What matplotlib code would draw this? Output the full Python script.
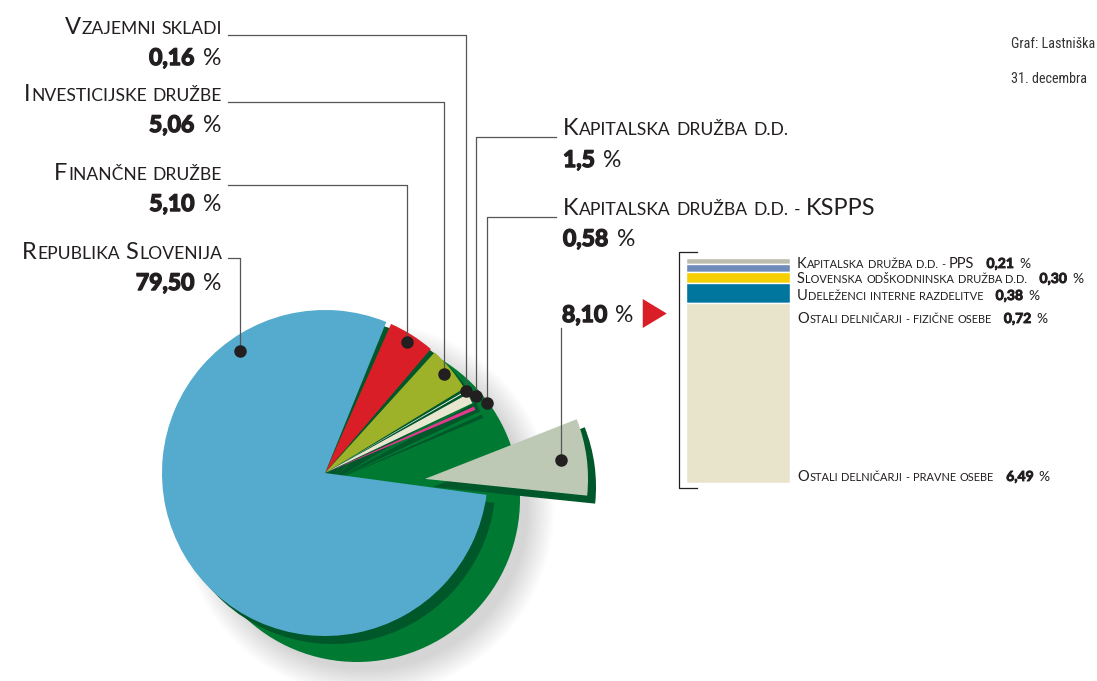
import numpy as np
import matplotlib
matplotlib.use('Agg')
import matplotlib.pyplot as plt
import matplotlib.patheffects as pe
from matplotlib.patches import Wedge, Circle, Polygon
from matplotlib import font_manager

# lastniska struktura - delezi v % (v smeri urinega kazalca od vrha)
slices = ['Finančne družbe', 'Investicijske družbe', 'Vzajemni skladi',
          'Kapitalska družba d.d.', 'Kapitalska družba d.d. - KSPPS',
          'Ostali', 'Republika Slovenija']
shares = [5.10, 5.06, 0.16, 1.5, 0.58, 8.10, 79.50]
share_txt = ['5,10', '5,06', '0,16', '1,5', '0,58', '8,10', '79,50']
slice_colors = ['#d91e27', '#9db229', '#ffffff', '#e9e6d0', '#e2398f',
                '#bdc9b4', '#55abcd']

# razdelitev "ostali" 8,10 %
others = ['Kapitalska družba d.d. - PPS', 'Slovenska odškodninska družba d.d.',
          'Udeleženci interne razdelitve', 'Ostali delničarji - fizične osebe',
          'Ostali delničarji - pravne osebe']
others_shares = [0.21, 0.30, 0.38, 0.72, 6.49]
others_txt = ['0,21', '0,30', '0,38', '0,72', '6,49']
others_colors = ['#bdbdad', '#6e8bb9', '#f5cf00', '#00759d', '#e8e4cb']

INK = '#231f20'
LINE = '#555555'
DARK = '#00572a'
GREEN = '#007a33'

names = {f.name for f in font_manager.fontManager.ttflist}
FONT = 'Lato' if 'Lato' in names else 'DejaVu Sans'
NARROW = next((n for n in ['Roboto Condensed', 'Liberation Sans Narrow', 'Roboto']
               if n in names), 'DejaVu Sans')

W, H = 1097, 681
fig = plt.figure(figsize=(W / 100, H / 100), dpi=100)
ax = fig.add_axes([0, 0, 1, 1])
ax.set_xlim(0, W)
ax.set_ylim(H, 0)
ax.axis('off')
renderer = fig.canvas.get_renderer()
PX = 100 / 72  # px per pt


def pt(a, r, c):
    a = np.radians(a)
    return c[0] + r * np.cos(a), c[1] - r * np.sin(a)


def wedge(c, r, a1, a2, **kw):
    # a1 < a2 in screen angles (ccw), y axis is inverted
    return Wedge(c, r, -a2, -a1, **kw)


# --- pita ---
C = (325, 473)
R = 163
start = 67.0
edges = start - np.concatenate([[0], np.cumsum(shares)]) * 3.6
expl = 5  # index izvlecenega kosa

# mehka senca
for k in range(14):
    ax.add_patch(Circle((C[0] + 42, C[1] + 36), R + 24 - 2 * k, color='k',
                        alpha=0.012, lw=0, zorder=1))
ax.add_patch(Circle((C[0] + 32, C[1] + 26), R, color=GREEN, lw=0, zorder=2))

lo = edges[expl + 1]
d = np.array([np.cos(np.radians(lo)), -np.sin(np.radians(lo))])
n = np.array([np.cos(np.radians(lo + 90)), -np.sin(np.radians(lo + 90))])
shift = 100 * d + 6 * n

centers = []
for i, col in enumerate(slice_colors):
    a2, a1 = edges[i], edges[i + 1]
    g = min(0.9, 0.2 * (a2 - a1))
    c = (C[0] + shift[0], C[1] + shift[1]) if i == expl else C
    centers.append(c)
    ax.add_patch(wedge((c[0] + 8, c[1] + 8), R, a1 + g, a2 - g, color=DARK,
                       lw=0, zorder=3))
    ax.add_patch(wedge(c, R, a1 + g, a2 - g, color=col, lw=0, zorder=4))


# --- besedilo ---
def put_runs(x, y, runs, ha='left', z=10):
    arts, widths = [], []
    for s, size, weight, gap in runs:
        t = ax.text(0, y, s, fontsize=size, fontweight=weight, family=FONT,
                    va='baseline', ha='left', color=INK, zorder=z)
        if weight == 'bold':
            t.set_path_effects([pe.withStroke(linewidth=size * 0.065,
                                              foreground=INK)])
        arts.append(t)
        widths.append(t.get_window_extent(renderer).width)
    total = sum(widths) + sum(r[3] for r in runs)
    x0 = x - total if ha == 'right' else x
    for t, w, r in zip(arts, widths, runs):
        x0 += r[3]
        t.set_x(x0)
        x0 += w
    return x - total if ha == 'right' else x0


def smallcaps(s, big, small):
    runs = []
    for k, word in enumerate(s.split(' ')):
        parts = []
        for ch in word:
            up = ch.isupper()
            if parts and parts[-1][1] == up:
                parts[-1][0] += ch.upper()
            else:
                parts.append([ch.upper(), up])
        for j, (txt, up) in enumerate(parts):
            gap = (0 if k == 0 else 0.32 * small * PX) if j == 0 else 0.04 * small * PX
            runs.append((txt, big if up else small, 'normal', gap))
    return runs


def pct(v, size):
    return [(v, size, 'bold', 0), ('%', size, 'normal', 0.36 * size * PX)]


BIG, SMALL, PCT = 17, 12.6, 16.5

# oznake: (indeks, baseline naziva, baseline %, y crte)
left = [(2, 34, 65, 35), (1, 101, 132, 102), (0, 180, 211, 185), (6, 259, 290, 258)]
right = [(3, 135, 167, 137), (4, 215, 246, 217)]
dot_r = {0: 0.95, 1: 0.95, 2: 1.0, 3: 1.04, 4: 1.08, 5: 0.84, 6: 0.91}


def dot_of(i):
    a = (edges[i] + edges[i + 1]) / 2 if i != 6 else 125
    return pt(a, R * dot_r[i], centers[i])


for i, yb, yp, yl in left:
    put_runs(222, yb, smallcaps(slices[i], BIG, SMALL), ha='right')
    put_runs(221, yp, pct(share_txt[i], PCT), ha='right')
    dx, dy = dot_of(i)
    ax.plot([228, dx, dx], [yl, yl, dy], color=LINE, lw=0.9, zorder=6)
    ax.plot(dx, dy, 'o', color=INK, ms=8, zorder=7)

for i, yb, yp, yl in right:
    put_runs(563, yb, smallcaps(slices[i], BIG, SMALL))
    put_runs(563, yp, pct(share_txt[i], PCT))
    dx, dy = dot_of(i)
    ax.plot([556, dx, dx], [yl, yl, dy], color=LINE, lw=0.9, zorder=6)
    ax.plot(dx, dy, 'o', color=INK, ms=8, zorder=7)

# 8,10 % in puscica
xe = put_runs(562, 322, pct(share_txt[expl], PCT))
ax.add_patch(Polygon([(xe + 9, 299), (xe + 9, 328), (xe + 33, 313.5)],
                     color='#d91e27', lw=0, zorder=8))
dx, dy = dot_of(expl)
ax.plot([dx, dx], [328, dy], color=LINE, lw=0.9, zorder=6)
ax.plot(dx, dy, 'o', color=INK, ms=8, zorder=7)

# --- stolpec razdelitve ---
bx = fig.add_axes([686 / W, 1 - 483 / H, 104 / W, 225 / H])
bottoms = np.concatenate([[0], np.cumsum(others_shares)[:-1]])
bx.bar(0, others_shares, bottom=bottoms, width=1, color=others_colors,
       edgecolor='white', linewidth=1.0)
bx.set_xlim(-0.5, 0.5)
bx.set_ylim(sum(others_shares), 0)
bx.axis('off')

ax.plot([697, 679, 679, 697], [252, 252, 488, 488], color=INK, lw=0.9)

for name, v, yb in zip(others, others_txt, [268, 283, 300, 323, 481]):
    xe = put_runs(797, yb, smallcaps(name, 10.5, 7.9))
    put_runs(xe + 12, yb, pct(v, 10))

# naslov (na robu slike)
ax.text(1011, 48, 'Graf: Lastniška', family=NARROW, fontsize=10.2,
        color='#333333', va='baseline')
ax.text(1011, 83, '31. decembra', family=NARROW, fontsize=10.2,
        color='#333333', va='baseline')

fig.savefig('out.png', dpi=100)
